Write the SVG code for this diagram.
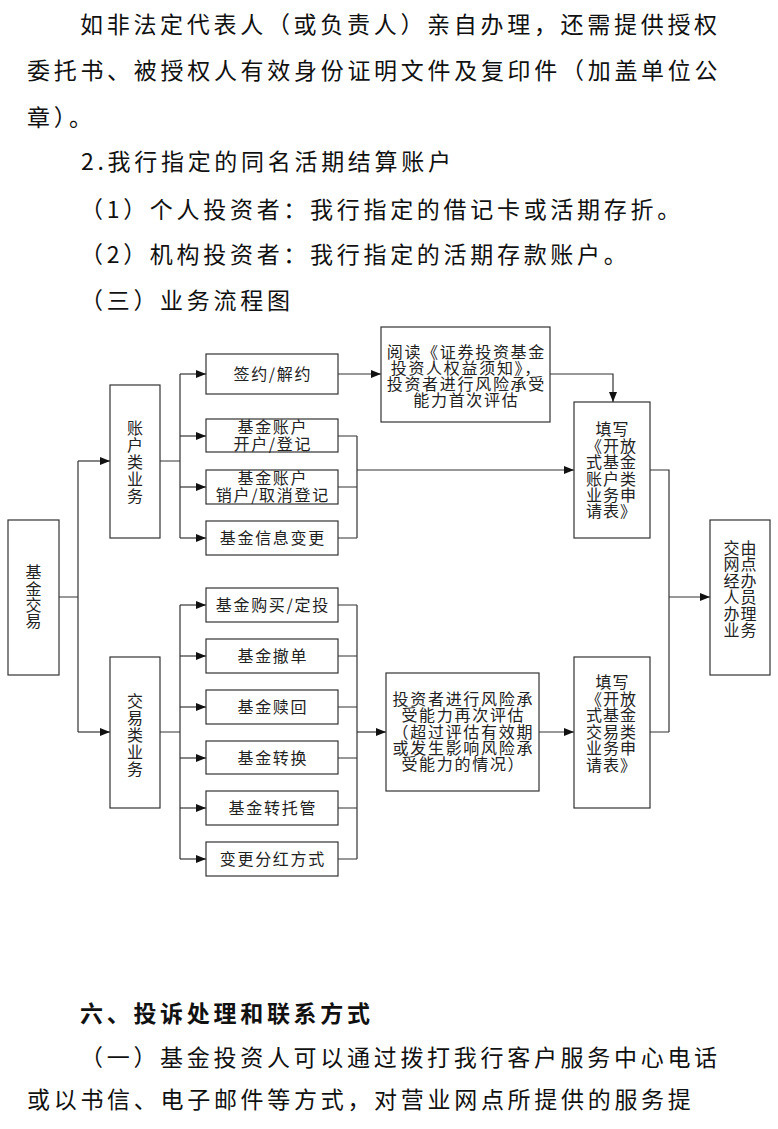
<svg xmlns="http://www.w3.org/2000/svg" width="778" height="1129" viewBox="0 0 778 1129">
<style>
.box{fill:#fff;stroke:#333;stroke-width:1.2}
.t{font-family:"Noto Sans CJK SC","Noto Sans CJK JP",sans-serif;font-size:16px;letter-spacing:1.7px;fill:#222}
.n{letter-spacing:1px}
.v{font-family:"Noto Sans CJK SC","Noto Sans CJK JP",sans-serif;font-size:16px;fill:#222;text-anchor:middle}
.m{text-anchor:middle}
.body{font-family:"Noto Sans CJK SC","Noto Sans CJK JP",sans-serif;font-size:23px;letter-spacing:3.7px;fill:#111}
.h{font-weight:bold}
.c{fill:none;stroke:#333;stroke-width:1.2}
</style>
<defs>
<marker id="arr" markerWidth="10" markerHeight="8" refX="10" refY="4" orient="auto" markerUnits="userSpaceOnUse"><path d="M0,0 L10,4 L0,8 z" fill="#111"/></marker>
</defs>
<rect width="778" height="1129" fill="#fff"/>

<g id="body-top">
<text class="body" x="80" y="32.7">如非法定代表人（或负责人）亲自办理，还需提供授权</text>
<text class="body" x="27" y="78.7">委托书、被授权人有效身份证明文件及复印件（加盖单位公</text>
<text class="body" x="27" y="125.7">章）。</text>
<text class="body" x="81" y="169.7">2.我行指定的同名活期结算账户</text>
<text class="body" x="80" y="217.7">（1）个人投资者：我行指定的借记卡或活期存折。</text>
<text class="body" x="80" y="262.7">（2）机构投资者：我行指定的活期存款账户。</text>
<text class="body" x="80" y="308.7">（三）业务流程图</text>
</g>

<g id="connectors">
<path class="c" d="M59,597 H78 M78,461 V732"/>
<path class="c" d="M78,461 H110" marker-end="url(#arr)"/>
<path class="c" d="M78,732 H110" marker-end="url(#arr)"/>
<path class="c" d="M160,461 H180 M180,374 V538"/>
<path class="c" d="M180,374 H206" marker-end="url(#arr)"/>
<path class="c" d="M180,436 H206" marker-end="url(#arr)"/>
<path class="c" d="M180,487 H206" marker-end="url(#arr)"/>
<path class="c" d="M180,538 H206" marker-end="url(#arr)"/>
<path class="c" d="M160,732 H180 M180,605 V859"/>
<path class="c" d="M180,605 H206" marker-end="url(#arr)"/>
<path class="c" d="M180,656 H206" marker-end="url(#arr)"/>
<path class="c" d="M180,707 H206" marker-end="url(#arr)"/>
<path class="c" d="M180,758 H206" marker-end="url(#arr)"/>
<path class="c" d="M180,808 H206" marker-end="url(#arr)"/>
<path class="c" d="M180,859 H206" marker-end="url(#arr)"/>
<path class="c" d="M338,374 H381" marker-end="url(#arr)"/>
<path class="c" d="M550,374 H613 V402" marker-end="url(#arr)"/>
<path class="c" d="M338,436 H357 M338,487 H357 M338,538 H357 M357,436 V538"/>
<path class="c" d="M357,470 H574" marker-end="url(#arr)"/>
<path class="c" d="M338,605 H357 M338,656 H357 M338,707 H357 M338,758 H357 M338,808 H357 M338,859 H357 M357,605 V859"/>
<path class="c" d="M357,732 H386" marker-end="url(#arr)"/>
<path class="c" d="M539,732 H574" marker-end="url(#arr)"/>
<path class="c" d="M650,470 H669 V732 M650,732 H669"/>
<path class="c" d="M669,597 H710" marker-end="url(#arr)"/>
</g>

<g id="node-jjjy">
<rect class="box" x="8" y="520" width="51" height="155"/>
<text class="v" x="33.5" y="578">基</text>
<text class="v" x="33.5" y="595">金</text>
<text class="v" x="33.5" y="611">交</text>
<text class="v" x="33.5" y="627">易</text>
</g>

<g id="node-zhlyw">
<rect class="box" x="110" y="385" width="50" height="153"/>
<text class="v" x="135" y="434">账</text>
<text class="v" x="135" y="451">户</text>
<text class="v" x="135" y="468">类</text>
<text class="v" x="135" y="485">业</text>
<text class="v" x="135" y="502">务</text>
</g>

<g id="node-jylyw">
<rect class="box" x="110" y="657" width="50" height="151"/>
<text class="v" x="135" y="707">交</text>
<text class="v" x="135" y="724">易</text>
<text class="v" x="135" y="741">类</text>
<text class="v" x="135" y="758">业</text>
<text class="v" x="135" y="775">务</text>
</g>

<g id="node-qy">
<rect class="box" x="206" y="354" width="132" height="40"/>
<text class="t m" x="272.85" y="380">签约/解约</text>
</g>
<g id="node-kh">
<rect class="box" x="206" y="419" width="132" height="33"/>
<text class="t m" x="272.85" y="433">基金账户</text>
<text class="t m" x="272.85" y="450">开户/登记</text>
</g>
<g id="node-xh">
<rect class="box" x="206" y="470" width="132" height="34"/>
<text class="t m" x="272.85" y="484">基金账户</text>
<text class="t m" x="272.85" y="501">销户/取消登记</text>
</g>
<g id="node-xxbg">
<rect class="box" x="206" y="521" width="132" height="34"/>
<text class="t m" x="272.85" y="544">基金信息变更</text>
</g>

<g id="node-gm">
<rect class="box" x="206" y="588" width="132" height="34"/>
<text class="t m" x="272.85" y="611">基金购买/定投</text>
</g>
<g id="node-cd">
<rect class="box" x="206" y="639" width="132" height="34"/>
<text class="t m" x="272.85" y="662">基金撤单</text>
</g>
<g id="node-sh">
<rect class="box" x="206" y="690" width="132" height="34"/>
<text class="t m" x="272.85" y="713">基金赎回</text>
</g>
<g id="node-zh">
<rect class="box" x="206" y="741" width="132" height="33"/>
<text class="t m" x="272.85" y="764">基金转换</text>
</g>
<g id="node-ztg">
<rect class="box" x="206" y="791" width="132" height="34"/>
<text class="t m" x="272.85" y="814">基金转托管</text>
</g>
<g id="node-fh">
<rect class="box" x="206" y="842" width="132" height="34"/>
<text class="t m" x="272.85" y="865">变更分红方式</text>
</g>

<g id="node-yd">
<rect class="box" x="381" y="327" width="169" height="95"/>
<text class="t m" x="466.35" y="358">阅读《证券投资基金</text>
<text class="t m" x="466.35" y="374">投资人权益须知》，</text>
<text class="t m" x="466.35" y="390">投资者进行风险承受</text>
<text class="t m" x="466.35" y="406">能力首次评估</text>
</g>

<g id="node-fx">
<rect class="box" x="386" y="673" width="153" height="118"/>
<text class="t m" x="463.35" y="705">投资者进行风险承</text>
<text class="t m" x="463.35" y="721">受能力再次评估</text>
<text class="t m" x="463.35" y="738">（超过评估有效期</text>
<text class="t m" x="463.35" y="754">或发生影响风险承</text>
<text class="t m" x="463.35" y="770">受能力的情况）</text>
</g>

<g id="node-txzh">
<rect class="box" x="574" y="402" width="76" height="136"/>
<text class="t n m" x="612.5" y="435">填写</text>
<text class="t n" x="586" y="451.5">《开放</text>
<text class="t n" x="586" y="468">式基金</text>
<text class="t n" x="586" y="484.5">账户类</text>
<text class="t n" x="586" y="501">业务申</text>
<text class="t n" x="586" y="517">请表》</text>
</g>

<g id="node-txjy">
<rect class="box" x="574" y="657" width="76" height="151"/>
<text class="t n m" x="612.5" y="688">填写</text>
<text class="t n" x="586" y="704.5">《开放</text>
<text class="t n" x="586" y="721">式基金</text>
<text class="t n" x="586" y="737.5">交易类</text>
<text class="t n" x="586" y="754">业务申</text>
<text class="t n" x="586" y="770.5">请表》</text>
</g>

<g id="node-jy">
<rect class="box" x="710" y="520" width="60" height="155"/>
<text class="t n m" x="740.5" y="553.5">交由</text>
<text class="t n m" x="740.5" y="570">网点</text>
<text class="t n m" x="740.5" y="586.5">经办</text>
<text class="t n m" x="740.5" y="603">人员</text>
<text class="t n m" x="740.5" y="619.5">办理</text>
<text class="t n m" x="740.5" y="636">业务</text>
</g>

<g id="body-bottom">
<text class="body h" x="80" y="1021.7">六、投诉处理和联系方式</text>
<text class="body" x="80" y="1065.7">（一）基金投资人可以通过拨打我行客户服务中心电话</text>
<text class="body" x="27" y="1107.7">或以书信、电子邮件等方式，对营业网点所提供的服务提</text>
</g>
</svg>
